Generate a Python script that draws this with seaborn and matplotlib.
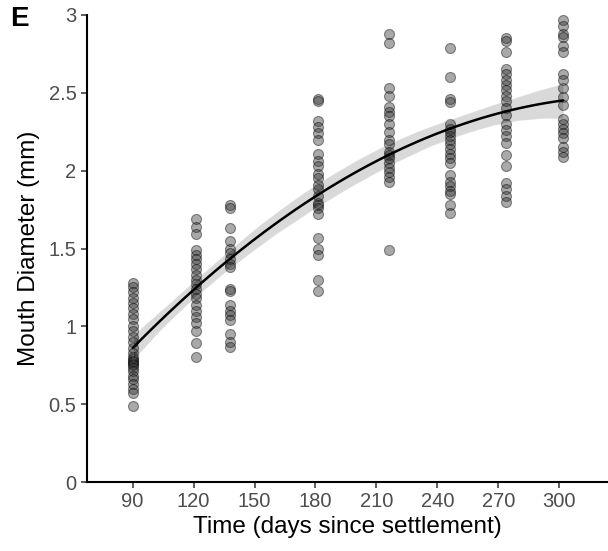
import numpy as np
import pandas as pd
import matplotlib
matplotlib.use("Agg")
import matplotlib.pyplot as plt
import seaborn as sns

# sampling days and mouth diameters (mm)
days = [90, 121, 138, 181, 216, 246, 274, 302]

d90 = [1.28, 1.25, 1.22, 1.18, 1.15, 1.12, 1.08, 1.05, 1.0, 0.97, 0.93, 0.9,
       0.86, 0.83, 0.8, 0.79, 0.78, 0.77, 0.76, 0.75, 0.73, 0.71, 0.68, 0.66,
       0.63, 0.6, 0.57, 0.49]
d121 = [1.69, 1.64, 1.59, 1.49, 1.46, 1.43, 1.40, 1.37, 1.33, 1.30, 1.27, 1.24,
        1.21, 1.18, 1.14, 1.10, 1.06, 1.02, 0.97, 0.89, 0.80]
d138 = [1.78, 1.76, 1.63, 1.55, 1.50, 1.47, 1.43, 1.40, 1.38, 1.24, 1.23, 1.14,
        1.10, 1.07, 1.04, 0.95, 0.90, 0.87]
d181 = [2.46, 2.45, 2.32, 2.28, 2.24, 2.20, 2.11, 2.06, 2.03, 1.98, 1.95, 1.91,
        1.88, 1.84, 1.79, 1.78, 1.76, 1.72, 1.57, 1.50, 1.46, 1.30, 1.23]
d216 = [2.88, 2.82, 2.53, 2.48, 2.41, 2.38, 2.35, 2.30, 2.25, 2.20, 2.17, 2.12,
        2.10, 2.08, 2.05, 2.02, 1.99, 1.96, 1.93, 1.49]
d246 = [2.79, 2.60, 2.46, 2.44, 2.30, 2.27, 2.25, 2.22, 2.20, 2.17, 2.14, 2.11,
        2.08, 2.05, 1.97, 1.93, 1.90, 1.87, 1.85, 1.78, 1.73]
d274 = [2.85, 2.83, 2.76, 2.65, 2.62, 2.58, 2.55, 2.52, 2.48, 2.45, 2.40, 2.36,
        2.30, 2.26, 2.22, 2.18, 2.10, 2.03, 1.92, 1.88, 1.84, 1.80]
d302 = [2.97, 2.93, 2.88, 2.86, 2.80, 2.76, 2.62, 2.58, 2.53, 2.47, 2.42, 2.33,
        2.30, 2.27, 2.24, 2.21, 2.15, 2.12, 2.09]

x_ticks = [90, 120, 150, 180, 210, 240, 270, 300]
y_ticks = [0, 0.5, 1, 1.5, 2, 2.5, 3]
y_labels = ["0", "0.5", "1", "1.5", "2", "2.5", "3"]

groups = [d90, d121, d138, d181, d216, d246, d274, d302]
df = pd.DataFrame({
    "time": np.concatenate([[d] * len(g) for d, g in zip(days, groups)]),
    "diam": np.concatenate(groups),
})

sns.set_style("ticks", {"axes.edgecolor": "black", "text.color": "black",
                        "axes.labelcolor": "black"})
plt.rcParams["font.family"] = ["Liberation Sans", "DejaVu Sans"]

fig = plt.figure(figsize=(6.08, 5.51), dpi=100)
ax = fig.add_axes([0.143, 0.1252, 0.857, 0.8476])

# quadratic fit with bootstrapped 95% band
sns.regplot(data=df, x="time", y="diam", order=2, ci=95, n_boot=1000, seed=3,
            ax=ax, color="black", truncate=True,
            scatter_kws={"s": 52, "facecolor": "#333333", "edgecolor": "black",
                         "linewidths": 0.8, "alpha": 0.42},
            line_kws={"linewidth": 1.8})

ax.set_xlim(67.5, 324)
ax.set_ylim(0, 3)
ax.set_xticks(x_ticks)
ax.set_yticks(y_ticks)
ax.set_yticklabels(y_labels)
ax.tick_params(labelsize=14.5, labelcolor="#4d4d4d", length=4, width=1.1,
               color="#333333")
for s in ["left", "bottom"]:
    ax.spines[s].set_linewidth(1.5)
sns.despine(ax=ax)

ax.set_xlabel("Time (days since settlement)", fontsize=17.5, labelpad=3)
ax.set_ylabel("Mouth Diameter (mm)", fontsize=17.5, labelpad=6)

fig.text(0.017, 0.965, "E", fontsize=20, fontweight="bold", va="center",
         color="black")

fig.savefig("out.png", dpi=100)
